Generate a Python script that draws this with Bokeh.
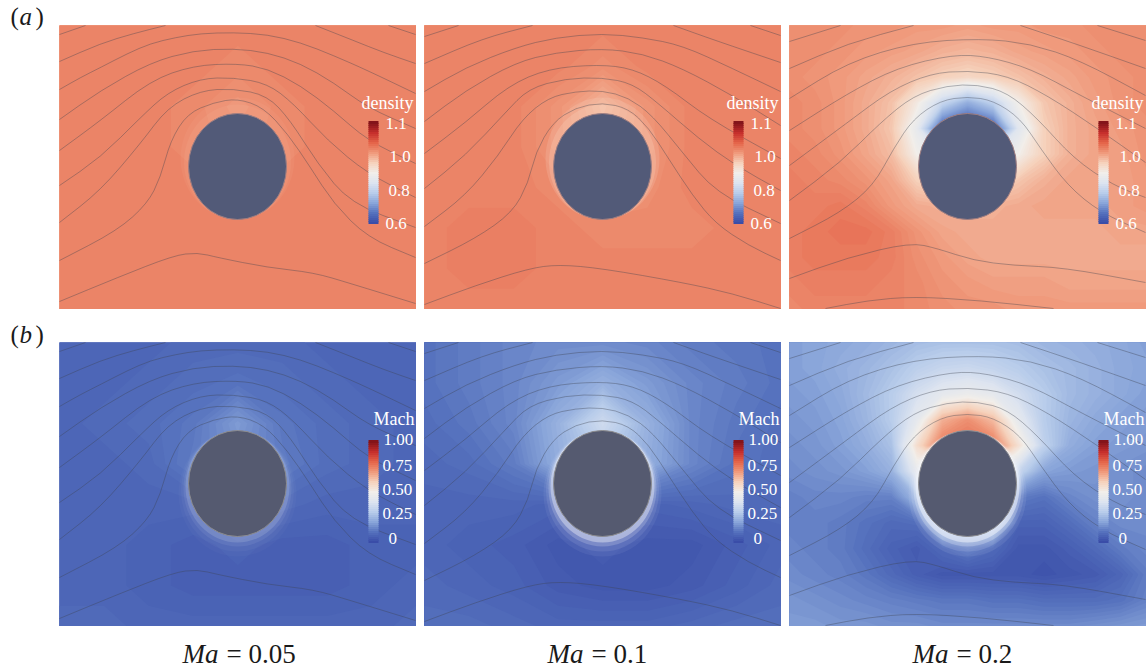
#!/usr/bin/env python3
from bokeh.core.properties import value
from bokeh.embed import file_html
from bokeh.models import Range1d
from bokeh.palettes import interp_palette
from bokeh.plotting import figure
from bokeh.resources import INLINE
import numpy as np

# colour scale, bottom to top of the colour bars
scale_colors = ["#3a4da8", "#5672be", "#8aa6da", "#b9cdeb", "#dde4f0", "#f2eeea",
                "#f6d2bc", "#f09a7c", "#e5654a", "#c62f2c", "#84141a"]

# field values, in percent of the colour bar, one grid per panel (first row = top of panel)
density_005 = [
    [74, 74, 74, 74, 74, 74, 74, 74, 74],
    [74, 74, 74, 74, 73, 74, 74, 74, 74],
    [74, 74, 74, 73, 71, 73, 74, 74, 74],
    [74, 74, 74, 73, 72, 73, 74, 74, 74],
    [74, 74, 74, 74, 73, 74, 74, 74, 74],
    [74, 74, 74, 74, 74, 74, 74, 74, 74],
    [74, 74, 74, 74, 74, 74, 74, 74, 74],
    [74, 74, 74, 74, 74, 74, 74, 74, 74],
]
density_01 = [
    [74, 74, 74, 74, 74, 74, 74, 74, 74],
    [74, 74, 74, 74, 72, 74, 74, 74, 74],
    [74, 74, 74, 71, 65, 71, 74, 74, 74],
    [74, 74, 74, 71, 67, 71, 74, 74, 74],
    [74, 74, 74, 73, 71, 72, 74, 74, 74],
    [74, 75, 75, 74, 73, 73, 73, 74, 74],
    [74, 75, 75, 74, 74, 74, 74, 74, 74],
    [74, 74, 74, 74, 74, 74, 74, 74, 74],
]
density_02 = [
    [72, 72, 72, 71, 71, 70, 70, 69, 70, 70, 71, 71, 72, 72, 72],
    [72, 72, 71, 70, 69, 68, 66, 65, 66, 68, 69, 70, 71, 72, 72],
    [72, 71, 70, 68, 66, 63, 60, 58, 60, 63, 66, 68, 70, 71, 72],
    [73, 72, 70, 67, 63, 52, 34, 22, 32, 50, 62, 66, 69, 71, 72],
    [73, 72, 70, 67, 62, 45, 5, 0, 5, 42, 60, 66, 68, 70, 71],
    [74, 73, 71, 68, 64, 50, 40, 40, 40, 50, 60, 66, 68, 69, 71],
    [75, 74, 73, 71, 68, 60, 55, 55, 55, 62, 66, 68, 68, 69, 70],
    [75, 75, 76, 74, 70, 67, 66, 66, 66, 67, 68, 68, 68, 69, 70],
    [75, 76, 77, 77, 75, 71, 68, 67, 67, 67, 67, 67, 67, 68, 68],
    [75, 76, 76, 76, 75, 72, 70, 68, 67, 67, 67, 67, 67, 67, 67],
    [74, 75, 75, 75, 74, 73, 71, 70, 69, 69, 69, 68, 68, 68, 68],
    [73, 74, 74, 74, 74, 73, 72, 71, 71, 70, 70, 70, 70, 70, 70],
]
mach_005 = [
    [7, 7, 7, 8, 8, 8, 7, 7, 7],
    [7, 7, 8, 9, 10, 9, 8, 7, 7],
    [7, 8, 9, 11, 18, 11, 9, 8, 7],
    [7, 7, 8, 12, 16, 12, 9, 8, 7],
    [7, 7, 7, 7, 12, 8, 7, 7, 7],
    [7, 7, 6, 5, 6, 5, 5, 6, 6],
    [7, 7, 6, 5, 5, 5, 5, 6, 7],
    [8, 8, 7, 7, 7, 7, 7, 7, 8],
]
mach_01 = [
    [10, 12, 14, 15, 15, 14, 12, 11, 10],
    [10, 12, 14, 18, 23, 18, 14, 12, 10],
    [9, 11, 14, 23, 36, 23, 14, 11, 9],
    [8, 9, 12, 22, 30, 22, 14, 10, 9],
    [7, 7, 7, 6, 12, 6, 7, 8, 8],
    [7, 6, 5, 3, 4, 3, 3, 5, 7],
    [8, 7, 6, 4, 3, 3, 4, 6, 8],
    [9, 9, 8, 7, 7, 7, 8, 9, 9],
]
mach_02 = [
    [19, 20, 21, 22, 24, 26, 27, 27, 27, 26, 24, 23, 22, 21, 19],
    [19, 20, 22, 24, 27, 31, 34, 35, 33, 30, 27, 25, 23, 21, 20],
    [18, 19, 21, 25, 30, 38, 44, 47, 44, 37, 30, 25, 23, 21, 19],
    [17, 18, 20, 24, 30, 44, 66, 72, 64, 44, 30, 24, 21, 19, 18],
    [16, 17, 19, 22, 27, 56, 76, 78, 76, 55, 32, 22, 19, 18, 17],
    [15, 16, 17, 19, 23, 45, 50, 50, 50, 34, 20, 18, 17, 16, 15],
    [13, 14, 14, 13, 13, 25, 40, 40, 40, 12, 10, 14, 16, 16, 15],
    [13, 13, 12, 10, 8, 9, 30, 30, 30, 6, 6, 9, 13, 15, 15],
    [14, 13, 12, 9, 6, 4, 8, 12, 8, 3, 3, 5, 8, 12, 14],
    [15, 14, 13, 11, 8, 5, 3, 3, 3, 3, 2, 3, 4, 7, 12],
    [17, 16, 15, 14, 13, 12, 11, 11, 10, 10, 9, 9, 9, 10, 13],
    [18, 18, 17, 17, 16, 16, 15, 15, 15, 15, 15, 15, 16, 17, 18],
]

# streamlines, as (x, y) inside the panel
lines_005 = [
    [(0, 9), (26, 0)],
    [(329, 0), (356, 9)],
    [(0, 36), (41, 18), (74, 8), (106, 0)],
    [(256, 0), (294, 15), (324, 27), (356, 38)],
    [(0, 64), (21, 52), (41, 42), (68, 28), (91, 18), (116, 12), (141, 8), (174, 7), (208, 9), (241, 17), (274, 30), (308, 45), (356, 68)],
    [(0, 94), (41, 65), (91, 37), (134, 25), (174, 23), (208, 27), (241, 38), (274, 57), (308, 82), (356, 103)],
    [(0, 125), (41, 95), (91, 55), (134, 40), (178, 38), (208, 43), (241, 60), (274, 85), (308, 115), (356, 138)],
    [(0, 160), (41, 132), (81, 92), (108, 67), (141, 53), (174, 52), (208, 58), (234, 78), (268, 115), (308, 148), (356, 172)],
    [(0, 197), (41, 165), (81, 118), (108, 82), (141, 65), (174, 63), (208, 70), (231, 95), (258, 138), (291, 178), (356, 202)],
    [(0, 235), (58, 205), (88, 178), (101, 152), (111, 115), (128, 88), (154, 77), (178, 73), (204, 82), (228, 108), (251, 142), (274, 178), (308, 212), (356, 232)],
    [(0, 276), (58, 252), (114, 230), (138, 227), (158, 232), (208, 242), (254, 247), (291, 258), (356, 278)],
]
lines_01 = [
    [(0, 11), (34, 0)],
    [(326, 0), (356, 10)],
    [(0, 38), (58, 13), (108, 0)],
    [(249, 0), (291, 15), (356, 37)],
    [(0, 66), (41, 42), (91, 22), (131, 12), (178, 8), (218, 12), (258, 20), (308, 43), (356, 66)],
    [(0, 96), (41, 65), (91, 37), (131, 27), (178, 23), (218, 28), (258, 43), (308, 70), (356, 100)],
    [(0, 128), (41, 97), (84, 60), (124, 43), (174, 39), (208, 43), (241, 60), (284, 93), (356, 133)],
    [(0, 163), (41, 130), (81, 87), (104, 63), (141, 53), (178, 52), (208, 58), (234, 78), (274, 113), (311, 140), (356, 165)],
    [(0, 201), (41, 170), (74, 130), (98, 93), (124, 72), (151, 66), (178, 65), (204, 72), (228, 90), (258, 127), (291, 167), (356, 198)],
    [(0, 238), (51, 213), (88, 187), (104, 157), (111, 127), (128, 97), (151, 82), (178, 77), (204, 83), (224, 102), (244, 133), (268, 170), (291, 198), (324, 220), (356, 235)],
    [(0, 279), (51, 260), (104, 243), (134, 239), (178, 243), (258, 257), (308, 268), (356, 283)],
]
lines_02 = [
    [(0, 16), (51, 0)],
    [(308, 0), (356, 15)],
    [(0, 43), (58, 18), (124, 0)],
    [(231, 0), (291, 20), (356, 43)],
    [(0, 73), (58, 37), (124, 17), (191, 13), (241, 18), (291, 35), (356, 70)],
    [(0, 105), (58, 68), (108, 42), (164, 29), (198, 31), (241, 43), (291, 70), (356, 103)],
    [(0, 140), (58, 97), (101, 65), (141, 48), (178, 45), (218, 50), (258, 70), (308, 103), (356, 137)],
    [(0, 175), (51, 137), (91, 97), (124, 70), (158, 60), (188, 59), (218, 67), (248, 93), (284, 133), (324, 160), (356, 172)],
    [(0, 213), (51, 187), (84, 160), (104, 123), (124, 93), (151, 75), (178, 71), (204, 75), (231, 93), (251, 123), (278, 160), (311, 187), (356, 207)],
    [(0, 253), (58, 232), (121, 217), (148, 223), (184, 235), (224, 240), (274, 242), (356, 257)],
    [(36, 283), (78, 275), (124, 271), (191, 275), (264, 283)],
]

# texts
ma_labels = ["0.05", "0.1", "0.2"]
density_ticks = ["1.1", "1.0", "0.8", "0.6"]
mach_ticks = ["1.00", "0.75", "0.50", "0.25", "0"]

# page layout in pixels of the 1146x670 window
panel_left = [59, 424, 789]
panel_top = [25, 342]
panel_w = 356.5
panel_h = 283.5
serif = value("Liberation Serif")

level_colors = interp_palette(scale_colors, 101)
bar_colors = interp_palette(scale_colors, 51)
line_style = dict(line_color="#3d4250", line_alpha=0.55, line_width=0.7)

p = figure(width=1146, height=670, x_range=Range1d(0, 1146), y_range=Range1d(670, 0),
           x_axis_location=None, y_axis_location=None, toolbar_location=None,
           output_backend="svg", min_border=0, outline_line_color=None)
p.grid.visible = False


def label(x, y, text, size, color="#1a1a1a", style="normal"):
    # the text glyph puts the baseline about 0.4 em under y
    xs = x if isinstance(x, list) else [x]
    ys = y if isinstance(y, list) else [y]
    p.text(xs, ys, text=text, text_color=color, text_font=serif, text_font_style=style,
           text_font_size=f"{size}px", text_baseline="alphabetic", y_offset=-0.4 * size)


def draw_panel(left, top, grid, lines, title, title_x, title_y, ticks, tick_x, tick_y,
               bar_y, body_color, rim_color, halo_color, halo_layers, halo_alpha):
    # field: contour regions painted from low to high, each one over the last, so no seams
    z = np.array(grid, dtype=float)
    gx = np.linspace(left, left + panel_w, z.shape[1])
    gy = np.linspace(top, top + panel_h, z.shape[0])
    low = int(z.min())
    p.quad(left=[left], right=[left + panel_w], top=[top], bottom=[top + panel_h],
           fill_color=level_colors[low], line_color=None)
    for level in range(low + 1, int(z.max()) + 1):
        p.contour(gx, gy, z, [level - 0.5, 101], fill_color=level_colors[level], line_color=None)

    # soft glow next to the cylinder, offset so that one side stays hidden behind it
    cx = left + 178
    cy = top + 141
    for grow, shift, alpha in halo_layers:
        p.ellipse(cx, cy + shift, width=98 + grow, height=106 + grow, fill_color=halo_color,
                  line_color=None, fill_alpha=halo_alpha * alpha)

    # streamlines: curves through the midpoints, with the read points as control points
    for line in lines:
        pts = np.array(line, dtype=float) + [left, top]
        mid = (pts[:-1] + pts[1:]) / 2
        p.line([pts[0, 0], mid[0, 0]], [pts[0, 1], mid[0, 1]], **line_style)
        p.line([mid[-1, 0], pts[-1, 0]], [mid[-1, 1], pts[-1, 1]], **line_style)
        if len(pts) > 2:
            p.quadratic(mid[:-1, 0], mid[:-1, 1], mid[1:, 0], mid[1:, 1],
                        pts[1:-1, 0], pts[1:-1, 1], **line_style)

    # cylinder
    p.ellipse(cx, cy, width=98, height=106, fill_color=body_color, line_color=rim_color,
              line_width=1)

    # colour bar
    steps = np.arange(len(bar_colors)) * 2
    p.quad(left=left + 309, right=left + 319, top=top + bar_y + 100 - steps - 2.5,
           bottom=top + bar_y + 100 - steps + 0.5, fill_color=bar_colors, line_color=None)
    label(left + title_x, top + title_y, [title], 18, "white")
    label([left + x for x in tick_x], [top + y for y in tick_y], ticks, 17, "white")


columns = [(density_005, mach_005, lines_005), (density_01, mach_01, lines_01),
           (density_02, mach_02, lines_02)]
glow_layers = [(16, -8, 0.5), (9, -4.5, 0.6)]
crescent_layers = [(20, 10, 0.08), (15, 7.5, 0.12), (10, 5, 0.25), (6, 3, 0.5)]
glows = [0.12, 0.35, 0]
crescents = [0.3, 0.8, 1.0]

for i, (density, mach, lines) in enumerate(columns):
    draw_panel(panel_left[i], panel_top[0], density, lines, "density", 302, 85, density_ticks,
               [326, 330, 329, 326], [105, 138, 172, 205], 98, "#525a78", "#a07f82",
               "#f8dccb", glow_layers, glows[i])
    draw_panel(panel_left[i], panel_top[1], mach, lines, "Mach", 314, 84, mach_ticks,
               [324, 323, 323, 323, 329], [104, 130, 154, 178, 203], 100, "#555a70", "#8d8d90",
               "#f4f6fb", crescent_layers, crescents[i])

    # Ma = ... under each column
    label(panel_left[i] + 123, 664, ["Ma"], 27, style="italic")
    label(panel_left[i] + 167, 664, ["= " + ma_labels[i]], 27)

# row letters
for letter, base in [("a", 26), ("b", 344)]:
    label([10, 35], [base, base], ["(", ")"], 25)
    label(19, base, [letter], 25, style="italic")

open("out.html", "w").write(file_html(p, INLINE))
